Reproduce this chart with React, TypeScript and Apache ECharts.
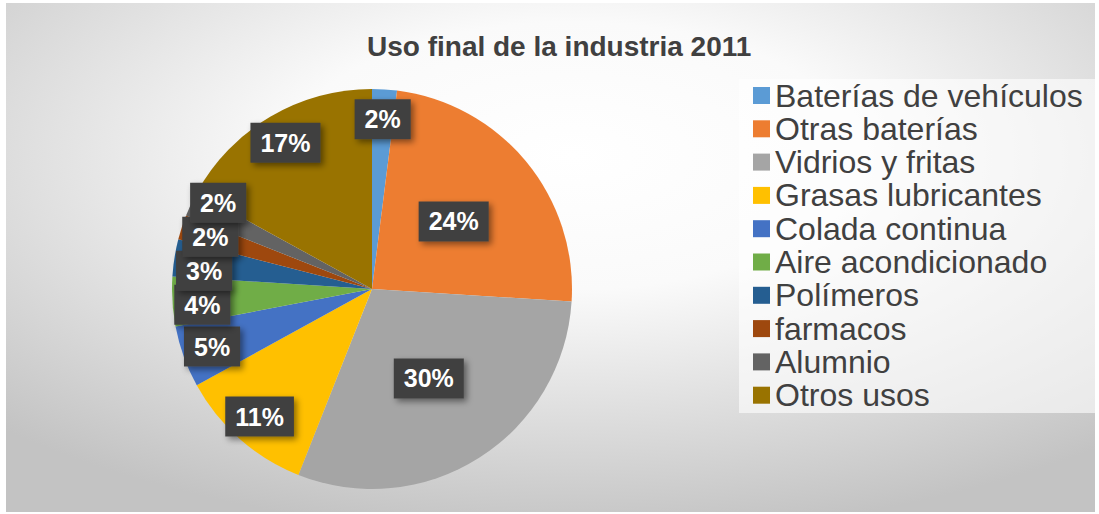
import React, { useEffect, useRef } from "react";
import * as echarts from "echarts";

const titleText = "Uso final de la industria 2011";
const categories = [
  "Baterías de vehículos",
  "Otras baterías",
  "Vidrios y fritas",
  "Grasas lubricantes",
  "Colada continua",
  "Aire acondicionado",
  "Polímeros",
  "farmacos",
  "Alumnio",
  "Otros usos",
];
const values = [2, 24, 30, 11, 5, 4, 3, 2, 2, 17];
const colors = [
  "#5B9BD5",
  "#ED7D31",
  "#A5A5A5",
  "#FFC000",
  "#4472C4",
  "#70AD47",
  "#255E91",
  "#9E480E",
  "#636363",
  "#997300",
];

const CX = 372;
const CY = 289;
const R = 200;
const FONT = "'Liberation Sans', Arial, sans-serif";

export default function App() {
  const ref = useRef<HTMLDivElement>(null);
  useEffect(() => {
    document.body.style.margin = "0";
    const chart = echarts.init(ref.current!, null, { renderer: "svg" });
    const total = values.reduce((a, b) => a + b, 0);
    const cum: number[] = [];
    let acc = 0;
    values.forEach((v) => {
      cum.push(acc);
      acc += v;
    });
    // base label anchors (radial) then resolve vertical crowding on the left side
    const pos = values.map((v, i) => {
      const theta = ((cum[i] + v / 2) / total) * Math.PI * 2;
      const d = R * (v >= 20 ? 0.53 : 0.85);
      return { x: CX + d * Math.sin(theta), y: CY - d * Math.cos(theta) };
    });
    const MIN_GAP = 34;
    const left = pos
      .map((p, i) => ({ i, y: p.y, x: p.x }))
      .filter((p) => p.x < CX - 100)
      .sort((a, b) => a.y - b.y);
    for (let pass = 0; pass < 50; pass++) {
      let moved = false;
      for (let k = 0; k < left.length - 1; k++) {
        const a = left[k];
        const b = left[k + 1];
        if (Math.abs(a.x - b.x) < 70 && b.y - a.y < MIN_GAP) {
          const deficit = MIN_GAP - (b.y - a.y);
          a.y -= deficit / 2;
          b.y += deficit / 2;
          moved = true;
        }
      }
      if (!moved) break;
    }
    left.forEach((p) => {
      pos[p.i].y = p.y;
    });

    chart.setOption({
      animation: false,
      color: colors,
      title: {
        text: titleText,
        left: 362,
        top: 27,
        textStyle: {
          fontFamily: FONT,
          fontSize: 28,
          fontWeight: "bold",
          color: "#404040",
        },
      },
      graphic: [
        {
          type: "rect",
          silent: true,
          z: -10,
          shape: { x: 6, y: 3, width: 1089, height: 509 },
          style: {
            fill: new echarts.graphic.RadialGradient(0.52, 0.3, 0.75, [
              { offset: 0, color: "#ffffff" },
              { offset: 0.35, color: "#fafafa" },
              { offset: 1, color: "#c3c3c3" },
            ]),
          },
        },
        {
          type: "rect",
          silent: true,
          z: -9,
          shape: { x: 739, y: 79, width: 357, height: 334 },
          style: { fill: "rgba(255,255,255,0.6)" },
        },
      ],
      legend: {
        orient: "vertical",
        left: 753,
        top: 79,
        padding: 0,
        itemWidth: 17,
        itemHeight: 17,
        itemGap: 0.3,
        icon: "rect",
        data: categories,
        textStyle: {
          fontFamily: FONT,
          fontSize: 32,
          lineHeight: 33,
          color: "#404040",
        },
      },
      series: [
        {
          type: "pie",
          center: [CX, CY],
          radius: R,
          startAngle: 90,
          clockwise: true,
          avoidLabelOverlap: false,
          data: categories.map((name, i) => ({ name, value: values[i] })),
          itemStyle: { borderWidth: 0 },
          label: {
            show: true,
            position: "inside",
            formatter: (p: any) => Math.round(p.percent) + "%",
            fontFamily: FONT,
            fontSize: 25,
            fontWeight: "bold",
            color: "#ffffff",
            backgroundColor: "#404040",
            padding: [6, 10],
            lineHeight: 28,
            shadowBlur: 6,
            shadowColor: "rgba(0,0,0,0.45)",
            shadowOffsetX: 3,
            shadowOffsetY: 3,
          },
          labelLine: { show: false },
          labelLayout: (p: any) => {
            const q = pos[p.dataIndex];
            return {
              x: q.x,
              y: q.y,
              align: "center",
              verticalAlign: "middle",
            };
          },
        },
      ],
    });
    return () => chart.dispose();
  }, []);
  return (
    <div
      ref={ref}
      style={{ position: "absolute", left: 0, top: 0, width: 1099, height: 514 }}
    />
  );
}
